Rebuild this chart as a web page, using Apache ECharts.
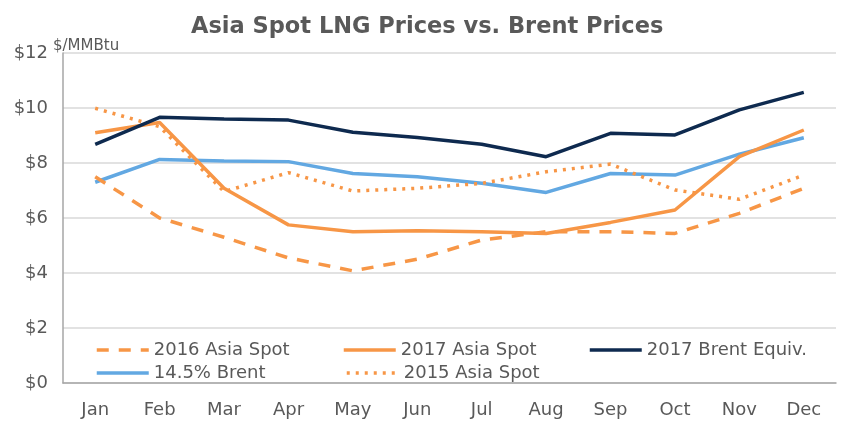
<!DOCTYPE html>
<html>
<head>
<meta charset="utf-8">
<script src="https://cdn.jsdelivr.net/npm/echarts@6/dist/echarts.min.js"></script>
<style>
  html, body { margin: 0; padding: 0; background: #fff; }
  #chart { width: 854px; height: 421px; }
</style>
</head>
<body>
<div id="chart"></div>
<script>
const months = ['Jan', 'Feb', 'Mar', 'Apr', 'May', 'Jun', 'Jul', 'Aug', 'Sep', 'Oct', 'Nov', 'Dec'];
const yTicks = [0, 2, 4, 6, 8, 10, 12];

const asia2016 = [7.5, 6.0, 5.3, 4.55, 4.08, 4.5, 5.2, 5.5, 5.5, 5.44, 6.17, 7.08];
const asia2017 = [9.1, 9.47, 7.08, 5.75, 5.5, 5.54, 5.5, 5.44, 5.84, 6.29, 8.23, 9.2];
const brent2017 = [8.68, 9.66, 9.6, 9.56, 9.12, 8.93, 8.68, 8.23, 9.08, 9.02, 9.93, 10.57];
const brent145 = [7.3, 8.13, 8.07, 8.05, 7.62, 7.5, 7.26, 6.93, 7.62, 7.56, 8.32, 8.92];
const asia2015 = [9.99, 9.32, 6.96, 7.65, 6.98, 7.08, 7.26, 7.68, 7.96, 7.02, 6.68, 7.56];

const ORANGE = '#F79646';
const NAVY = '#0E2A4F';
const BLUE = '#62A8E2';
const GREY = '#595959';
const FONT = 'DejaVu Sans, sans-serif';

const chart = echarts.init(document.getElementById('chart'), null, { renderer: 'canvas' });

function line(name, data, color, type) {
  return {
    name: name,
    type: 'line',
    data: data,
    symbol: 'none',
    smooth: false,
    lineStyle: { color: color, width: 3.5, type: type },
    itemStyle: { color: color }
  };
}

function legendAt(name, left, top) {
  return {
    data: [name],
    left: left,
    top: top,
    orient: 'horizontal',
    itemWidth: 52,
    itemHeight: 4,
    padding: 0,
    selectedMode: false,
    itemStyle: { opacity: 0 },
    lineStyle: { width: 3.5 },
    textStyle: { color: GREY, fontSize: 18, fontFamily: FONT }
  };
}

const option = {
  backgroundColor: '#fff',
  animation: false,
  title: {
    text: 'Asia Spot LNG Prices vs. Brent Prices',
    left: 186,
    top: 11,
    textStyle: { color: GREY, fontSize: 22.5, fontWeight: 'bold', fontFamily: FONT }
  },
  graphic: [{
    type: 'text',
    left: 53,
    top: 39,
    style: { text: '$/MMBtu', fill: GREY, font: '15px ' + FONT }
  }],
  legend: [
    legendAt('2016 Asia Spot', 95, 341),
    legendAt('2017 Asia Spot', 342, 341),
    legendAt('2017 Brent Equiv.', 588, 341),
    legendAt('14.5% Brent', 95, 364),
    legendAt('2015 Asia Spot', 345, 364)
  ],
  grid: { left: 63, right: 18, top: 53, bottom: 38, containLabel: false },
  xAxis: {
    type: 'category',
    data: months,
    boundaryGap: true,
    axisLine: { show: true, lineStyle: { color: '#a6a6a6', width: 1.5 } },
    axisTick: { show: false },
    axisLabel: { color: GREY, fontSize: 18, fontFamily: FONT, margin: 18 }
  },
  yAxis: {
    type: 'value',
    min: yTicks[0],
    max: yTicks[yTicks.length - 1],
    interval: 2,
    axisLine: { show: true, lineStyle: { color: '#a6a6a6', width: 1.5 } },
    axisTick: { show: false },
    axisLabel: { color: GREY, fontSize: 18, fontFamily: FONT, margin: 15, formatter: v => '$' + v },
    splitLine: { show: true, lineStyle: { color: '#d9d9d9', width: 1.5 } }
  },
  series: [
    line('14.5% Brent', brent145, BLUE, 'solid'),
    line('2016 Asia Spot', asia2016, ORANGE, [12, 10]),
    line('2015 Asia Spot', asia2015, ORANGE, [3, 6]),
    line('2017 Asia Spot', asia2017, ORANGE, 'solid'),
    line('2017 Brent Equiv.', brent2017, NAVY, 'solid')
  ]
};

chart.setOption(option);
</script>
</body>
</html>
